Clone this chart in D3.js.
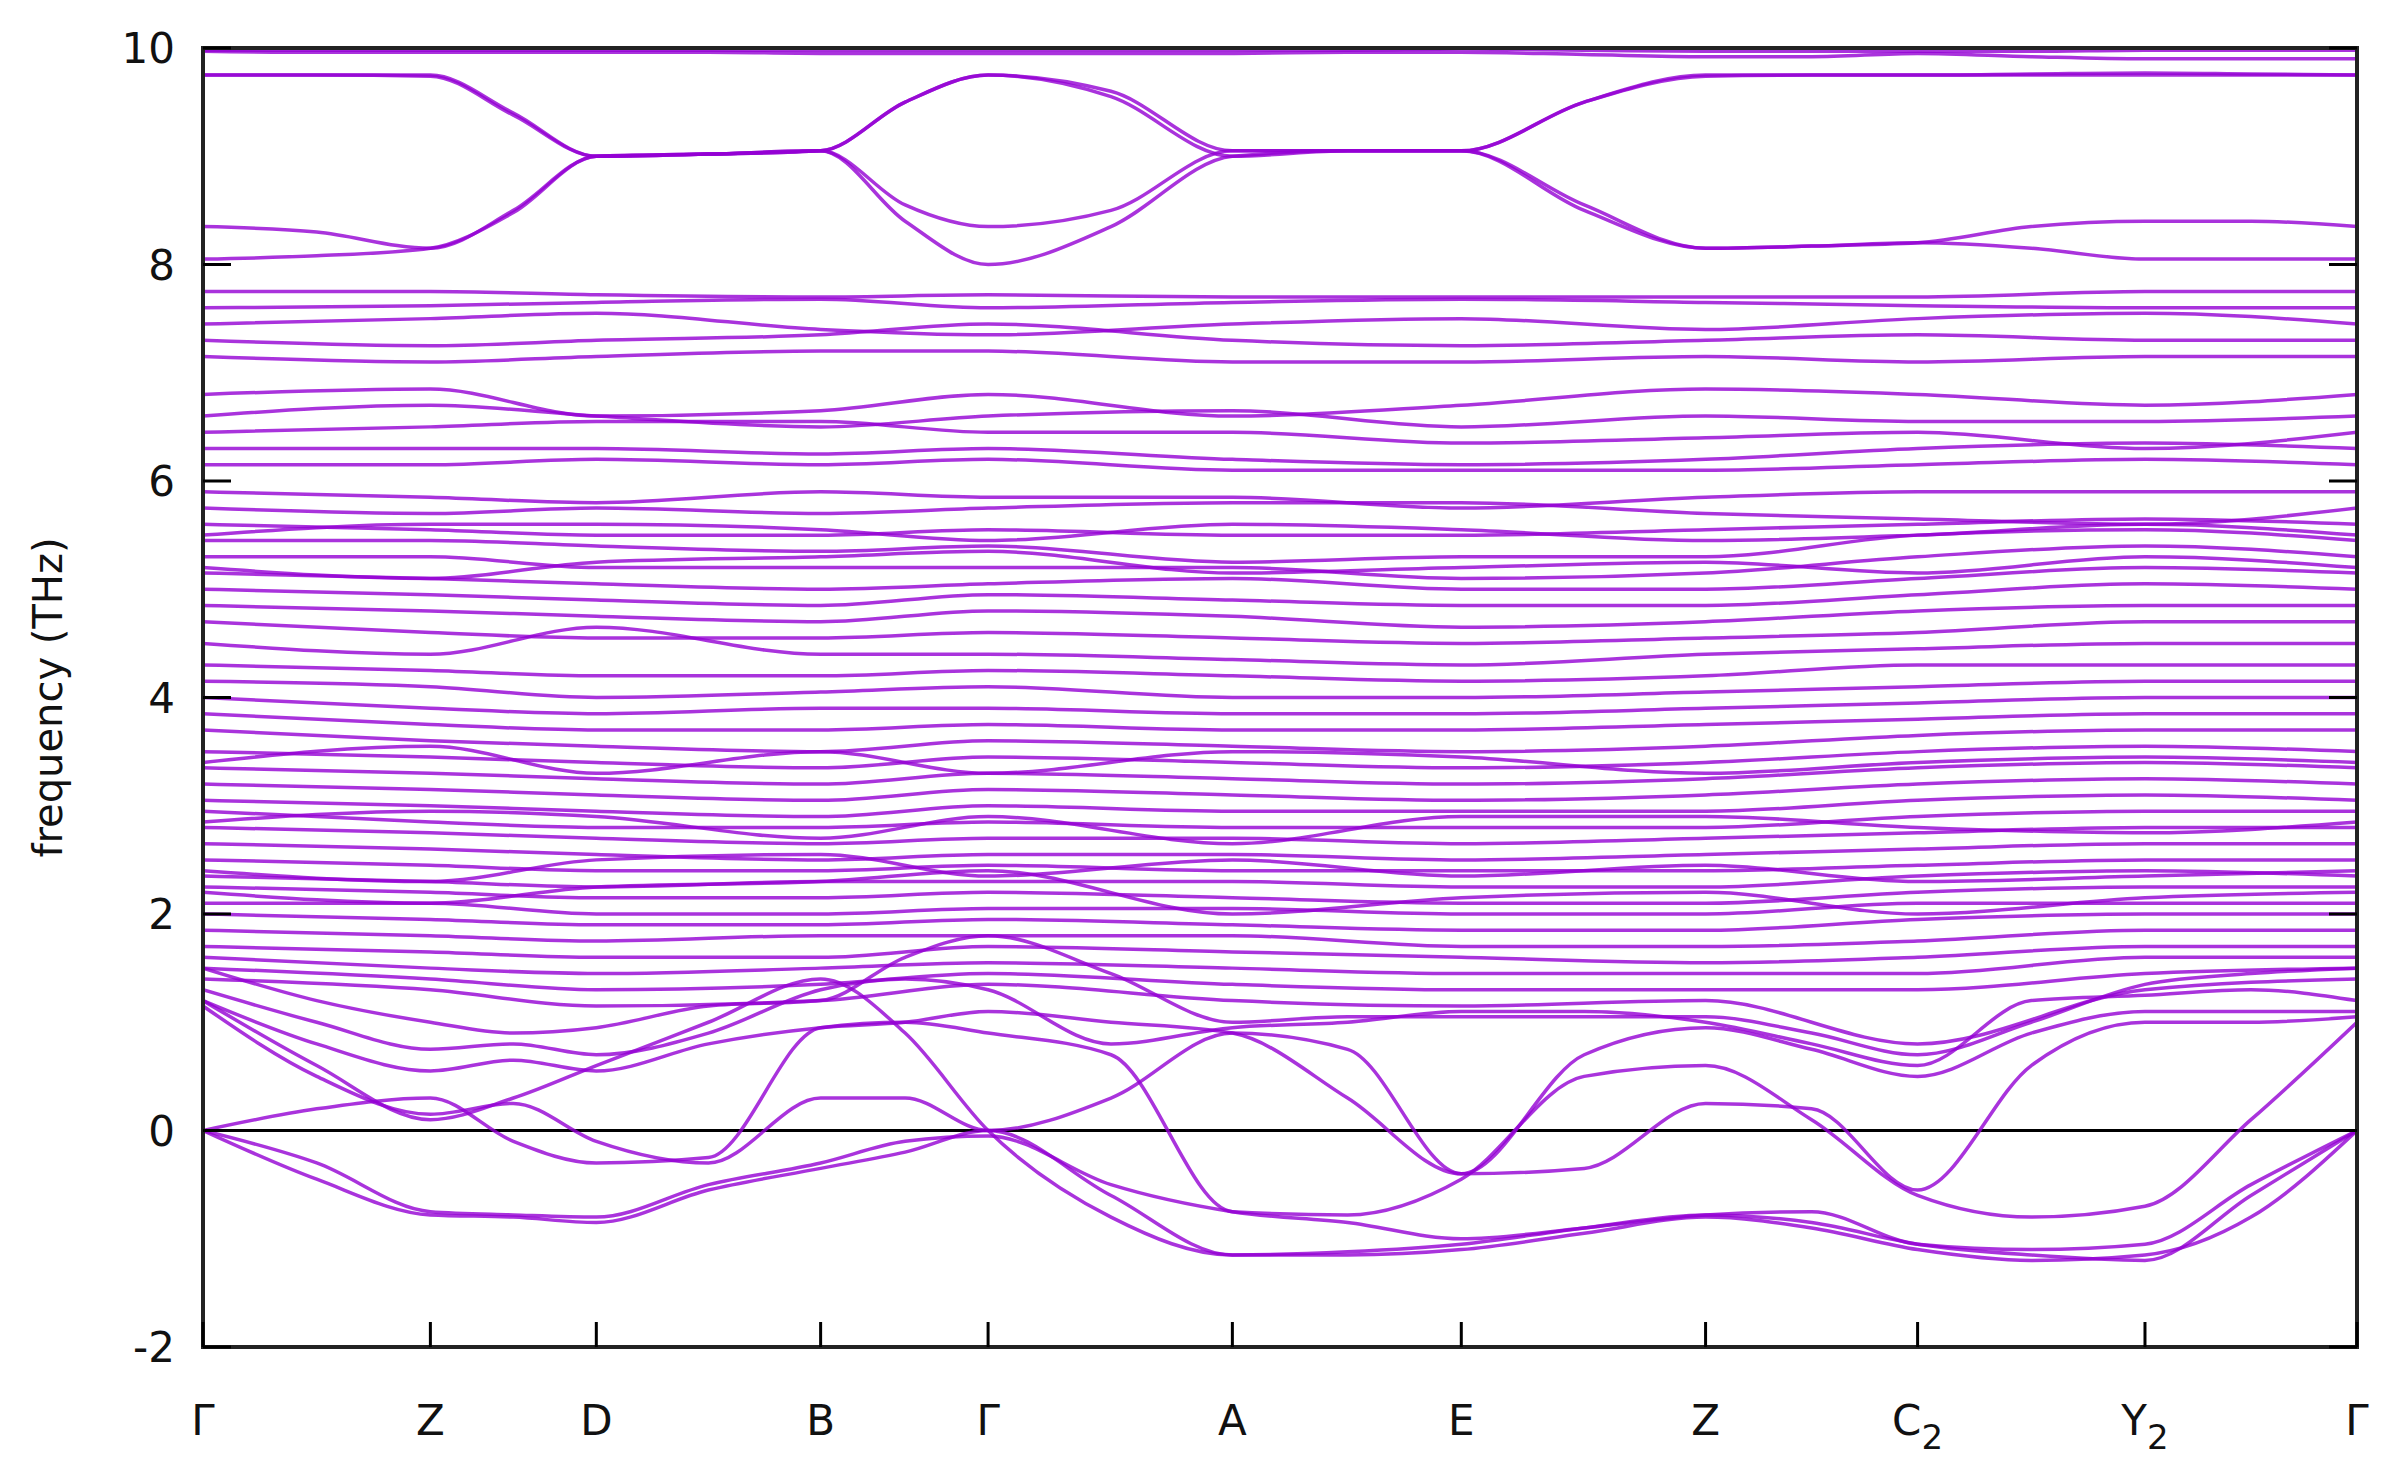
<!DOCTYPE html>
<html><head><meta charset="utf-8">
<script src="https://cdn.jsdelivr.net/npm/d3@7"></script>
<style>body{margin:0;background:#fff}</style></head>
<body><svg id="c" width="2407" height="1480"></svg>
<script>
const kNodes=[133,281,389,535,644,803,952,1111,1249,1397,1535];
const kLabels=[["Γ"],["Z"],["D"],["B"],["Γ"],["A"],["E"],["Z"],["C","2"],["Y","2"],["Γ"]];
const kFine=[133,207,281,335,389,462,535,590,644,724,803,878,952,1032,1111,1180,1249,1323,1397,1466,1535];
const yTicks=[-2,0,2,4,6,8,10];
const topBands=[
[9.98,9.98,9.98,9.98,9.98,9.98,9.98,9.98,9.98,9.98,9.98,9.98,9.99,9.98,9.97,9.97,9.97,9.97,9.98,9.98,9.98],
[9.97,9.96,9.96,9.96,9.96,9.96,9.95,9.95,9.95,9.95,9.95,9.96,9.96,9.94,9.92,9.92,9.95,9.92,9.9,9.9,9.9],
[9.75,9.75,9.75,9.4,9.0,9.02,9.05,9.5,9.75,9.6,9.05,9.05,9.05,9.5,9.75,9.75,9.75,9.75,9.75,9.75,9.75],
[9.75,9.75,9.74,9.38,9.0,9.02,9.05,9.5,9.75,9.55,9.0,9.05,9.05,9.5,9.74,9.75,9.75,9.76,9.77,9.76,9.75],
[8.35,8.3,8.15,8.5,9.0,9.02,9.05,8.55,8.35,8.5,9.05,9.05,9.05,8.55,8.15,8.17,8.2,8.35,8.4,8.4,8.35],
[8.05,8.08,8.15,8.48,9.0,9.02,9.05,8.4,8.0,8.35,9.0,9.05,9.05,8.5,8.15,8.17,8.2,8.15,8.05,8.05,8.05]
];
const midBands=[
[7.75,7.75,7.72,7.7,7.72,7.7,7.7,7.7,7.7,7.75,7.75],
[7.6,7.62,7.65,7.68,7.6,7.65,7.68,7.65,7.62,7.6,7.6],
[7.45,7.5,7.55,7.4,7.35,7.45,7.5,7.4,7.5,7.55,7.45],
[7.3,7.25,7.3,7.35,7.45,7.3,7.25,7.3,7.35,7.3,7.3],
[7.15,7.1,7.15,7.2,7.2,7.1,7.1,7.15,7.1,7.15,7.15],
[6.8,6.85,6.6,6.65,6.8,6.6,6.7,6.85,6.8,6.7,6.8],
[6.6,6.7,6.6,6.5,6.6,6.65,6.5,6.6,6.55,6.55,6.6],
[6.45,6.5,6.55,6.55,6.45,6.45,6.35,6.4,6.45,6.3,6.45],
[6.3,6.3,6.3,6.25,6.3,6.2,6.15,6.2,6.3,6.35,6.3],
[6.15,6.15,6.2,6.15,6.2,6.1,6.1,6.1,6.15,6.2,6.15],
[5.9,5.85,5.8,5.9,5.85,5.85,5.75,5.85,5.9,5.9,5.9],
[5.75,5.7,5.75,5.7,5.75,5.8,5.8,5.7,5.65,5.6,5.75],
[5.6,5.55,5.5,5.5,5.55,5.5,5.5,5.55,5.6,5.65,5.6],
[5.5,5.6,5.6,5.55,5.45,5.6,5.55,5.45,5.5,5.6,5.5],
[5.45,5.45,5.4,5.35,5.4,5.25,5.3,5.3,5.5,5.55,5.45],
[5.3,5.3,5.2,5.2,5.2,5.2,5.1,5.15,5.3,5.4,5.3],
[5.2,5.1,5.25,5.3,5.35,5.15,5.2,5.25,5.15,5.3,5.2],
[5.15,5.1,5.05,5.0,5.05,5.1,5.0,5.0,5.1,5.2,5.15],
[5.0,4.95,4.9,4.85,4.95,4.9,4.85,4.85,4.95,5.05,5.0],
[4.85,4.8,4.75,4.7,4.8,4.75,4.65,4.7,4.8,4.85,4.85],
[4.7,4.6,4.55,4.55,4.6,4.55,4.5,4.55,4.6,4.7,4.7],
[4.5,4.4,4.65,4.4,4.4,4.35,4.3,4.4,4.45,4.5,4.5],
[4.3,4.25,4.2,4.2,4.25,4.2,4.15,4.2,4.3,4.3,4.3],
[4.15,4.1,4.0,4.05,4.1,4.0,4.0,4.05,4.1,4.15,4.15],
[4.0,3.9,3.85,3.9,3.9,3.85,3.85,3.9,3.95,4.0,4.0],
[3.85,3.75,3.7,3.7,3.75,3.7,3.7,3.75,3.8,3.85,3.85],
[3.7,3.6,3.55,3.5,3.6,3.55,3.5,3.55,3.65,3.7,3.7],
[3.5,3.45,3.4,3.35,3.45,3.4,3.35,3.4,3.5,3.55,3.5],
[3.4,3.55,3.3,3.5,3.3,3.5,3.45,3.3,3.4,3.45,3.4],
[3.35,3.3,3.25,3.2,3.3,3.25,3.2,3.25,3.35,3.4,3.35],
[3.2,3.15,3.1,3.05,3.15,3.1,3.05,3.1,3.2,3.25,3.2],
[3.05,3.0,2.95,2.9,3.0,2.95,2.95,2.95,3.05,3.1,3.05],
[2.95,2.85,2.8,2.8,2.85,2.8,2.8,2.8,2.9,2.95,2.95],
[2.85,2.95,2.9,2.7,2.9,2.65,2.9,2.9,2.8,2.75,2.85],
[2.8,2.75,2.7,2.65,2.7,2.7,2.65,2.7,2.75,2.8,2.8],
[2.65,2.6,2.55,2.5,2.55,2.55,2.5,2.55,2.6,2.65,2.65],
[2.5,2.45,2.4,2.4,2.45,2.4,2.4,2.4,2.45,2.5,2.5],
[2.4,2.3,2.5,2.55,2.35,2.5,2.35,2.45,2.3,2.35,2.4],
[2.35,2.3,2.25,2.3,2.3,2.3,2.25,2.25,2.35,2.4,2.35],
[2.25,2.2,2.15,2.15,2.2,2.15,2.1,2.1,2.2,2.25,2.25],
[2.2,2.1,2.25,2.3,2.4,2.0,2.15,2.2,2.0,2.15,2.2],
[2.1,2.1,2.0,2.0,2.05,2.05,2.0,2.0,2.1,2.1,2.1],
[2.0,1.95,1.9,1.9,1.95,1.9,1.85,1.85,1.95,2.0,2.0],
[1.85,1.8,1.75,1.8,1.8,1.8,1.7,1.7,1.75,1.85,1.85],
[1.7,1.65,1.6,1.6,1.7,1.65,1.6,1.55,1.6,1.7,1.7],
[1.6,1.5,1.45,1.5,1.55,1.5,1.45,1.45,1.45,1.6,1.6],
[1.5,1.4,1.3,1.35,1.45,1.35,1.3,1.3,1.3,1.45,1.5],
[1.4,1.3,1.15,1.2,1.35,1.2,1.15,1.2,0.8,1.3,1.4]
];
const lowBands=[
[0,-0.45,-0.78,-0.8,-0.85,-0.55,-0.35,-0.2,0,-0.6,-1.15,-1.12,-1.05,-0.9,-0.78,-0.85,-1.05,-1.15,-1.2,-0.6,0],
[0,-0.3,-0.75,-0.78,-0.8,-0.5,-0.3,-0.1,-0.05,-0.5,-0.75,-0.85,-1.0,-0.9,-0.78,-0.75,-1.05,-1.1,-1.05,-0.5,0],
[0,0.2,0.3,-0.1,-0.3,-0.25,0.95,1.0,0.9,0.7,-0.75,-0.78,-0.45,0.5,0.6,0.1,-0.6,-0.8,-0.7,0.1,1.0],
[1.15,0.5,0.15,0.25,-0.1,-0.3,0.3,0.3,0,0.3,0.9,0.75,-0.4,-0.35,0.25,0.2,-0.55,0.6,1.0,1.0,1.05],
[1.2,0.8,0.55,0.65,0.55,0.8,0.95,1.0,1.1,1.0,0.9,0.3,-0.4,0.7,0.95,0.75,0.5,0.9,1.1,1.1,1.1],
[1.3,1.0,0.75,0.8,0.7,0.9,1.3,1.4,1.3,0.8,0.95,1.0,1.1,1.1,1.0,0.8,0.6,1.2,1.25,1.3,1.2],
[1.5,1.2,1.0,0.9,0.95,1.15,1.2,1.6,1.8,1.45,1.0,1.05,1.05,1.05,1.05,0.9,0.7,1.0,1.35,1.45,1.5],
[1.2,0.6,0.1,0.3,0.6,1.0,1.4,0.9,0.0,-0.8,-1.15,-1.15,-1.1,-0.95,-0.8,-0.9,-1.1,-1.2,-1.15,-0.8,0]
];
const L=203,R=2357,T=48,B=1347;
const svg=d3.select("#c");
const x=d3.scaleLinear().domain([133,1535]).range([L,R]);
const y=d3.scaleLinear().domain([-2,10]).range([B,T]);
const col="#9400d3";
svg.append("clipPath").attr("id","cp").append("rect").attr("x",L).attr("y",T).attr("width",R-L).attr("height",B-T);
const g=svg.append("g").attr("clip-path","url(#cp)");
const line=d3.line().x(d=>x(d[0])).y(d=>y(d[1])).curve(d3.curveMonotoneX);
g.append("line").attr("x1",L).attr("x2",R).attr("y1",y(0)).attr("y2",y(0)).attr("stroke","#000").attr("stroke-width",3);
const draw=(arr,ks)=>arr.forEach(b=>g.append("path").attr("d",line(b.map((v,i)=>[ks[i],v]))).attr("fill","none").attr("stroke",col).attr("stroke-width",3.5).attr("stroke-opacity",0.8));
draw(topBands,kFine);draw(midBands,kNodes);draw(lowBands,kFine);
svg.append("rect").attr("x",L).attr("y",T).attr("width",R-L).attr("height",B-T).attr("fill","none").attr("stroke","#222").attr("stroke-width",4);
yTicks.forEach(t=>{
  svg.append("line").attr("x1",L).attr("x2",L+28).attr("y1",y(t)).attr("y2",y(t)).attr("stroke","#000").attr("stroke-width",3);
  svg.append("line").attr("x1",R).attr("x2",R-28).attr("y1",y(t)).attr("y2",y(t)).attr("stroke","#000").attr("stroke-width",3);
  svg.append("text").attr("x",L-28).attr("y",y(t)+15).attr("text-anchor","end").attr("font-family","DejaVu Sans").attr("font-size",42).attr("fill","#111").text(t);
});
kNodes.forEach((k,i)=>{
  svg.append("line").attr("x1",x(k)).attr("x2",x(k)).attr("y1",B).attr("y2",B-25).attr("stroke","#000").attr("stroke-width",3);
  const t=svg.append("text").attr("x",x(k)).attr("y",1435).attr("text-anchor","middle").attr("font-family","DejaVu Sans").attr("font-size",42).attr("fill","#111");
  t.append("tspan").text(kLabels[i][0]);
  if(kLabels[i][1]) t.append("tspan").attr("dy",14).attr("font-size",34).text(kLabels[i][1]);
});
svg.append("text").attr("transform",`translate(62,${(T+B)/2}) rotate(-90)`).attr("text-anchor","middle").attr("font-family","DejaVu Sans").attr("font-size",40).attr("fill","#111").text("frequency (THz)");
</script></body></html>
